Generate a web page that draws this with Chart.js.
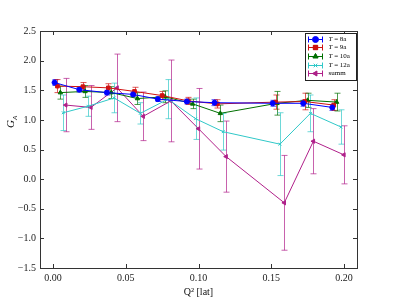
<!DOCTYPE html>
<html>
<head>
<meta charset="utf-8">
<script src="https://cdn.jsdelivr.net/npm/chart.js@4"></script>
<style>
  html, body { margin: 0; padding: 0; background: #fff; }
  #wrap { width: 399px; height: 299px; }
</style>
</head>
<body>
<div id="wrap"><canvas id="chart" width="399" height="299"></canvas></div>
<script>
// data
var labels = ["T = 8a", "T = 9a", "T = 10a", "T = 12a", "summ"];

var q2_8a  = [0.001, 0.018, 0.037, 0.055, 0.072, 0.092, 0.111, 0.151, 0.172, 0.192];
var ga_8a  = [1.63, 1.51, 1.46, 1.43, 1.35, 1.31, 1.29, 1.28, 1.28, 1.21];
var err_8a = [0.05, 0.04, 0.04, 0.04, 0.04, 0.04, 0.05, 0.05, 0.05, 0.05];

var q2_9a  = [0.003, 0.0205, 0.038, 0.056, 0.075, 0.093, 0.113, 0.153, 0.173, 0.193];
var ga_9a  = [1.57, 1.56, 1.54, 1.48, 1.41, 1.32, 1.27, 1.30, 1.31, 1.25];
var err_9a = [0.11, 0.07, 0.07, 0.07, 0.07, 0.06, 0.07, 0.12, 0.14, 0.09];

var q2_10a  = [0.005, 0.022, 0.040, 0.058, 0.077, 0.096, 0.115, 0.154, 0.175, 0.195];
var ga_10a  = [1.46, 1.48, 1.46, 1.36, 1.39, 1.27, 1.11, 1.28, 1.33, 1.30];
var err_10a = [0.11, 0.10, 0.10, 0.10, 0.10, 0.08, 0.14, 0.20, 0.12, 0.15];

var q2_12a  = [0.007, 0.024, 0.042, 0.060, 0.079, 0.098, 0.117, 0.156, 0.177, 0.198];
var ga_12a  = [1.12, 1.23, 1.37, 1.11, 1.35, 1.02, 0.80, 0.59, 1.11, 0.88];
var err_12a = [0.30, 0.17, 0.25, 0.18, 0.33, 0.35, 0.31, 0.53, 0.31, 0.29];

var q2_summ  = [0.0087, 0.026, 0.044, 0.062, 0.081, 0.100, 0.119, 0.159, 0.179, 0.200];
var ga_summ  = [1.25, 1.21, 1.54, 1.06, 1.32, 0.85, 0.38, -0.40, 0.64, 0.41];
var err_summ = [0.45, 0.37, 0.57, 0.41, 0.69, 0.68, 0.60, 0.80, 0.55, 0.49];

var xTicks = [0.00, 0.05, 0.10, 0.15, 0.20];
var yTicks = [-1.5, -1.0, -0.5, 0.0, 0.5, 1.0, 1.5, 2.0, 2.5];

var colors = ["#0000ff", "#d01010", "#007000", "#30c8c8", "#b0208a"];
var markers = ["circle", "rect", "triangle", "crossRot", "triangle"];
var rotations = [0, 0, 0, 0, 270];
var radii = [2.5, 2.6, 2.5, 2, 2.4];

var xs = [q2_8a, q2_9a, q2_10a, q2_12a, q2_summ];
var ys = [ga_8a, ga_9a, ga_10a, ga_12a, ga_summ];
var errs = [err_8a, err_9a, err_10a, err_12a, err_summ];

var serif = "'Liberation Serif', 'DejaVu Serif', serif";

function pts(x, y) {
    return x.map(function (v, i) { return { x: v, y: y[i] }; });
}

var datasets = labels.map(function (lab, k) {
    return {
        label: lab,
        data: pts(xs[k], ys[k]),
        errors: errs[k],
        borderColor: colors[k],
        backgroundColor: colors[k],
        borderWidth: 1,
        pointStyle: markers[k],
        pointRotation: rotations[k],
        pointRadius: radii[k],
        pointBorderWidth: 1,
        tension: 0
    };
});

function fade(c, a) {
    var r = parseInt(c.substr(1, 2), 16), g = parseInt(c.substr(3, 2), 16), b = parseInt(c.substr(5, 2), 16);
    return "rgba(" + r + "," + g + "," + b + "," + a + ")";
}

// error bars under the lines
var errorBars = {
    id: "errorBars",
    beforeDatasetsDraw: function (chart) {
        var ctx = chart.ctx, xs_ = chart.scales.x, ys_ = chart.scales.y;
        ctx.save();
        chart.data.datasets.forEach(function (ds) {
            ctx.strokeStyle = fade(ds.borderColor, 0.7);
            ctx.lineWidth = 1;
            ds.data.forEach(function (p, i) {
                var e = ds.errors[i];
                var px = Math.round(xs_.getPixelForValue(p.x)) + 0.5;
                var t = ys_.getPixelForValue(p.y + e), b = ys_.getPixelForValue(p.y - e);
                ctx.beginPath();
                ctx.moveTo(px, t); ctx.lineTo(px, b);
                ctx.moveTo(px - 3, t); ctx.lineTo(px + 3, t);
                ctx.moveTo(px - 3, b); ctx.lineTo(px + 3, b);
                ctx.stroke();
            });
        });
        ctx.restore();
    }
};

// frame, inward ticks, legend box and y label
var decor = {
    id: "decor",
    afterDraw: function (chart) {
        var ctx = chart.ctx, a = chart.chartArea;
        var sx = chart.scales.x, sy = chart.scales.y;
        ctx.save();
        ctx.strokeStyle = "#333";
        ctx.lineWidth = 1;
        ctx.strokeRect(Math.round(a.left) + 0.5, Math.round(a.top) + 0.5,
            Math.round(a.right - a.left), Math.round(a.bottom - a.top));
        ctx.beginPath();
        xTicks.forEach(function (v) {
            var px = Math.round(sx.getPixelForValue(v)) + 0.5;
            ctx.moveTo(px, a.bottom); ctx.lineTo(px, a.bottom - 4);
            ctx.moveTo(px, a.top); ctx.lineTo(px, a.top + 4);
        });
        yTicks.forEach(function (v) {
            var py = Math.round(sy.getPixelForValue(v)) + 0.5;
            ctx.moveTo(a.left, py); ctx.lineTo(a.left + 4, py);
            ctx.moveTo(a.right, py); ctx.lineTo(a.right - 4, py);
        });
        ctx.stroke();

        // legend
        var lx = 305.5, ly = 33.5, lw = 51, lh = 47;
        ctx.fillStyle = "#fff";
        ctx.fillRect(lx, ly, lw, lh);
        ctx.strokeStyle = "#222";
        ctx.strokeRect(lx, ly, lw, lh);
        chart.data.datasets.forEach(function (ds, k) {
            var yy = Math.round(ly + 5 + k * 8.7) + 0.5;
            var x0 = lx + 3, x1 = lx + 17;
            ctx.strokeStyle = ds.borderColor;
            ctx.beginPath();
            ctx.moveTo(x0, yy); ctx.lineTo(x1, yy);
            ctx.moveTo(x0, yy - 3); ctx.lineTo(x0, yy + 3);
            ctx.moveTo(x1, yy - 3); ctx.lineTo(x1, yy + 3);
            ctx.stroke();
            Chart.helpers.drawPoint(ctx, {
                pointStyle: ds.pointStyle, rotation: ds.pointRotation,
                radius: ds.pointRadius + 0.5, borderWidth: 1
            }, (x0 + x1) / 2, yy);
            ctx.fillStyle = ds.borderColor;
            ctx.fill();
            ctx.fillStyle = "#000";
            ctx.textBaseline = "middle";
            ctx.textAlign = "left";
            var tx = lx + 23;
            if (ds.label.charAt(0) === "T") {
                ctx.font = "italic 7px " + serif;
                ctx.fillText("T", tx, yy);
                tx += ctx.measureText("T").width;
                ctx.font = "7px " + serif;
                ctx.fillText(ds.label.slice(1), tx, yy);
            } else {
                ctx.font = "7px " + serif;
                ctx.fillText(ds.label, tx, yy);
            }
        });

        // y axis label
        ctx.translate(14, 122);
        ctx.rotate(-Math.PI / 2);
        ctx.fillStyle = "#000";
        ctx.textBaseline = "alphabetic";
        ctx.font = "italic 11px " + serif;
        ctx.fillText("G", -6, 0);
        ctx.font = "italic 7px " + serif;
        ctx.fillText("A", 2, 3);
        ctx.restore();
    }
};

new Chart(document.getElementById("chart"), {
    type: "line",
    data: { datasets: datasets },
    options: {
        responsive: false,
        animation: false,
        layout: { padding: { left: 0, right: 42, top: 31, bottom: 0 } },
        plugins: {
            legend: { display: false },
            tooltip: { enabled: false }
        },
        scales: {
            x: {
                type: "linear",
                min: -0.009,
                max: 0.209,
                afterFit: function (s) { s.height = 31; },
                afterBuildTicks: function (s) { s.ticks = xTicks.map(function (v) { return { value: v }; }); },
                grid: { display: false, drawTicks: false },
                border: { display: false },
                ticks: {
                    padding: 4,
                    color: "#222",
                    font: { family: serif, size: 10 },
                    maxRotation: 0,
                    callback: function (v) { return v.toFixed(2); }
                },
                title: {
                    display: true,
                    text: "Q² [lat]",
                    color: "#111",
                    padding: { top: 0, bottom: 1 },
                    font: { family: serif, size: 10 }
                }
            },
            y: {
                min: -1.5,
                max: 2.5,
                afterFit: function (s) { s.width = 40; },
                afterBuildTicks: function (s) { s.ticks = yTicks.map(function (v) { return { value: v }; }); },
                grid: { display: false, drawTicks: false },
                border: { display: false },
                ticks: {
                    padding: 4,
                    color: "#222",
                    font: { family: serif, size: 10 },
                    callback: function (v) { return v.toFixed(1).replace("-", "\u2212"); }
                }
            }
        }
    },
    plugins: [errorBars, decor]
});
</script>
</body>
</html>
